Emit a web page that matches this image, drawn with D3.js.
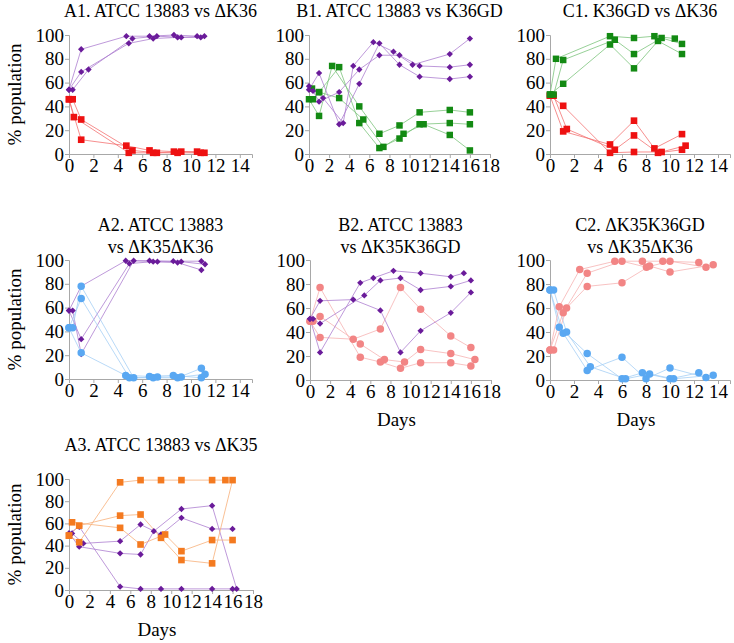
<!DOCTYPE html>
<html><head><meta charset="utf-8">
<script src="https://cdn.jsdelivr.net/npm/d3@7"></script>
<style>body{margin:0;background:#fff}svg{display:block}</style>
</head><body>
<svg id="c" width="734" height="643"></svg>
<script>
// ---- data: each series is a list of replicates, each a list of [day, %population]
const yTicks = [0,20,40,60,80,100];
const xTicks14 = [0,2,4,6,8,10,12,14];
const xTicks18 = [0,2,4,6,8,10,12,14,16,18];

const a1Purple = [
  [[0,54],[1,88],[4.7,99],[6.6,99],[8.6,100],[10.5,99]],
  [[0,54],[1,69],[4.9,93],[6.9,97],[8.9,98],[10.8,98]],
  [[0.3,54],[1.6,71],[5.2,97],[7.2,99],[9.2,98],[11.1,99]]];
const a1Red = [
  [[0,46],[1,12],[4.7,7],[6.6,3],[8.6,2],[10.5,2]],
  [[0,46],[0.4,31],[4.9,1],[6.9,1],[8.9,1],[10.8,1]],
  [[0.3,46],[1,29],[5.2,3],[7.2,1],[9.2,2],[11.1,1]]];

const b1Purple = [
  [[0,54],[1,68],[3,25],[5,59],[7,93],[9,75],[11,65],[14,63],[16,65]],
  [[0.4,53],[1,44],[3,52],[5,71],[7,83],[9,83],[11,74],[14,73],[16,75]],
  [[0,57],[1.4,47],[3.4,26],[4.4,74],[6.4,94],[8.4,86],[10.3,75],[14,84],[16,97]]];
const b1Green = [
  [[0,46],[1,32],[2.3,74],[5,40],[7,17],[9,24],[11,35],[14,37],[16,35]],
  [[0.4,46],[1,52],[3,73],[5,26],[7,5],[9,13],[11,25],[14,26],[16,25]],
  [[0.3,55],[1,52],[3,47],[5.4,29],[7.4,6],[9.4,17],[11.4,25],[14,16],[16,3]]];

const c1Green = [
  [[0,50],[0.5,80],[5,99],[7,97.5],[8.7,99],[10.4,97]],
  [[0,50],[1.1,59],[5,92],[7,72],[9,95],[11,84]],
  [[0.3,50],[1.1,79],[5.4,96],[7,84],[9.3,97.5],[11,92.5]]];
const c1Red = [
  [[0,49],[1.1,19],[5,8],[7,28],[8.7,4.7],[11,16.7]],
  [[0.3,49],[1.4,21],[5.4,3.6],[7,15.6],[9,1],[11,3.6]],
  [[0,49],[1.1,40.5],[5,1],[7,1.7],[9.3,1.7],[11.3,7]]];

const a2Purple = [
  [[0,57.5],[1,78],[4.65,99.4],[6.6,99.4],[8.55,99],[10.85,99]],
  [[0,57.5],[1,33.5],[4.95,97],[6.9,98.6],[8.9,97.8],[10.85,91.6]],
  [[0.3,57.5],[1,21],[5.3,99.4],[7.25,98.6],[9.2,98.6],[11.15,96.4]]];
const a2Blue = [
  [[0,43],[1,22],[4.65,3],[6.6,2.2],[8.55,3],[10.85,1]],
  [[0,43],[1,67.6],[4.95,1],[6.9,1],[8.9,1],[10.85,9]],
  [[0.3,43],[1,78],[5.3,1],[7.25,1.7],[9.2,1.7],[11.15,4]]];

const b2Purple = [
  [[0,51],[1,23],[5,81],[6.3,85],[8.3,91],[11,89],[14,86],[15.3,89]],
  [[0,51],[1,66],[4.3,67],[7,58],[9,23],[11,41],[14,56],[16,73]],
  [[0.3,51],[1,47],[5.4,70.5],[7,83],[9,85],[11,75],[14,78],[16,83]]];
const b2Pink = [
  [[0,49],[1,77],[5,19],[7,15],[9,9.7],[11,14.4],[14,14.4],[16,11.7]],
  [[0,49],[1,35.5],[4.3,34],[7,42.5],[9,77],[11,59],[14,36.7],[16,27]],
  [[0.3,49],[1,53],[5,30],[7.4,17],[9.4,15],[11,25.5],[14,22],[16.4,17]]];

const c2Pink = [
  [[0,25],[0.77,61],[2.48,92],[5.4,99],[7.7,99],[9.4,99],[12.4,98]],
  [[0,25],[1.1,56],[3.1,89],[6,99],[8.04,94],[10,99],[13,94]],
  [[0.3,25],[1.38,60],[3.1,78],[6,81],[8.3,95],[10,90],[13.6,96]]];
const c2Blue = [
  [[0,75],[0.77,44],[3.1,22],[6,1],[7.7,6],[10,1],[12.4,6]],
  [[0,75],[1.1,39],[3.1,8],[6,19],[8,1],[10,10],[13,2]],
  [[0.3,75],[1.38,40],[3.36,11],[6.3,1],[8.3,5],[10.3,1],[13.6,4]]];

const a3Purple = [
  [[0,51],[1,57],[5,3],[7,1],[9,1],[11,1],[14,1],[16,1]],
  [[0,51],[1,39],[5,33],[7,32],[8.3,53],[11,73],[14,76],[16.4,1]],
  [[0.3,51],[1.4,42],[5,44],[7,59],[9,50],[11,65],[14,55],[16,55]]];
const a3Orange = [
  [[0,49],[1,43],[5,97],[7,99],[9,99],[11,99],[14,99],[15.3,99]],
  [[0,49],[1,58],[5,67],[7,68],[9,47],[11,27],[14,24],[16,99]],
  [[0.3,61],[5,56],[7,41],[9.4,50],[11,35],[14,45],[16,45]]];

const titles = {
  A1:["A1. ATCC 13883 vs \u0394K36"], B1:["B1. ATCC 13883 vs K36GD"], C1:["C1. K36GD vs \u0394K36"],
  A2:["A2. ATCC 13883","vs \u0394K35\u0394K36"], B2:["B2. ATCC 13883","vs \u0394K35K36GD"],
  C2:["C2. \u0394K35K36GD","vs \u0394K35\u0394K36"], A3:["A3. ATCC 13883 vs \u0394K35"]
};

// ---- styles
const STY = {
  purple:{m:"#6a1b9a", l:"#ad7fd0", shape:"diamond", size:20},
  red:{m:"#ee1111", l:"#f47272", shape:"square", size:44},
  green:{m:"#138a13", l:"#7cc47c", shape:"square", size:42},
  blue:{m:"#5aa8f2", l:"#a6cff5", shape:"circle", size:44},
  pink:{m:"#f28585", l:"#f6b3b3", shape:"circle", size:44},
  orange:{m:"#f47a20", l:"#f8b07a", shape:"square", size:44}
};

const panels = [
  {id:"A1", x0:69, x1:252, y0:154, y1:35, xmax:15, ticks:xTicks14, ylab:true, days:false, tb:17, series:[[a1Red,"red"],[a1Purple,"purple"]]},
  {id:"B1", x0:309, x1:490, y0:154, y1:35, xmax:18, ticks:xTicks18, ylab:false, days:false, tb:17, series:[[b1Green,"green"],[b1Purple,"purple"]]},
  {id:"C1", x0:550, x1:730, y0:154, y1:35, xmax:15, ticks:xTicks14, ylab:false, days:false, tb:17, series:[[c1Red,"red"],[c1Green,"green"]]},
  {id:"A2", x0:69, x1:252, y0:379, y1:260, xmax:15, ticks:xTicks14, ylab:true, days:false, tb:231, series:[[a2Purple,"purple"],[a2Blue,"blue"]]},
  {id:"B2", x0:310, x1:491, y0:380, y1:260, xmax:18, ticks:xTicks18, ylab:false, days:true, tb:231, series:[[b2Pink,"pink"],[b2Purple,"purple"]]},
  {id:"C2", x0:550, x1:730, y0:380, y1:260, xmax:15, ticks:xTicks14, ylab:false, days:true, tb:231, series:[[c2Blue,"blue"],[c2Pink,"pink"]]},
  {id:"A3", x0:69, x1:253, y0:590, y1:479, xmax:18, ticks:xTicks18, ylab:true, days:true, tb:451, series:[[a3Purple,"purple"],[a3Orange,"orange"]]}
];

const svg = d3.select("#c");
const FONT = "'Liberation Serif','Times New Roman',serif";
const shapes = {square:d3.symbolSquare, circle:d3.symbolCircle, diamond:d3.symbolSquare};

panels.forEach(p => {
  const x = d3.scaleLinear().domain([0,p.xmax]).range([p.x0,p.x1]);
  const y = d3.scaleLinear().domain([0,100]).range([p.y0,p.y1]);
  const g = svg.append("g");

  const ya = g.append("g").attr("transform",`translate(${p.x0},0)`)
    .call(d3.axisLeft(y).tickValues(yTicks).tickSize(4).tickPadding(1));
  const xa = g.append("g").attr("transform",`translate(0,${p.y0})`)
    .call(d3.axisBottom(x).tickValues(p.ticks).tickSize(4).tickPadding(0).tickFormat(d3.format("d")));
  [ya,xa].forEach(a=>{
    a.selectAll("path,line").attr("stroke","#a8a8a8").attr("stroke-width",1);
    a.selectAll("text").attr("font-family",FONT).attr("font-size",19).attr("fill","#000");
  });
  xa.selectAll("text").attr("dy","0.72em");

  const line = d3.line().x(d=>x(d[0])).y(d=>y(d[1]));
  p.series.forEach(([reps,col]) => {
    const s = STY[col];
    reps.forEach(r => {
      g.append("path").attr("d",line(r)).attr("fill","none")
        .attr("stroke",s.l).attr("stroke-width",0.8);
    });
  });
  p.series.forEach(([reps,col]) => {
    const s = STY[col];
    const sym = d3.symbol().type(shapes[s.shape]).size(s.size);
    const rot = s.shape==="diamond" ? " rotate(45)" : "";
    reps.forEach(r => {
      g.selectAll(null).data(r).enter().append("path")
        .attr("d",sym).attr("transform",d=>`translate(${x(d[0])},${y(d[1])})${rot}`)
        .attr("fill",s.m);
    });
  });

  const tl = titles[p.id];
  const cx = (p.x0+p.x1)/2;
  tl.forEach((t,i)=>{
    g.append("text").attr("x",cx).attr("y",p.tb+i*22).attr("text-anchor","middle")
      .attr("font-family",FONT).attr("font-size",18).text(t);
  });
  if (p.ylab) {
    g.append("text").attr("transform",`translate(21,${(p.y0+p.y1)/2}) rotate(-90)`)
      .attr("text-anchor","middle").attr("font-family",FONT).attr("font-size",19).text("% population");
  }
  if (p.days) {
    g.append("text").attr("x",(p.x0+p.x1)/2 - 4).attr("y",p.y0+46).attr("text-anchor","middle")
      .attr("font-family",FONT).attr("font-size",19).text("Days");
  }
});
</script>
</body></html>
